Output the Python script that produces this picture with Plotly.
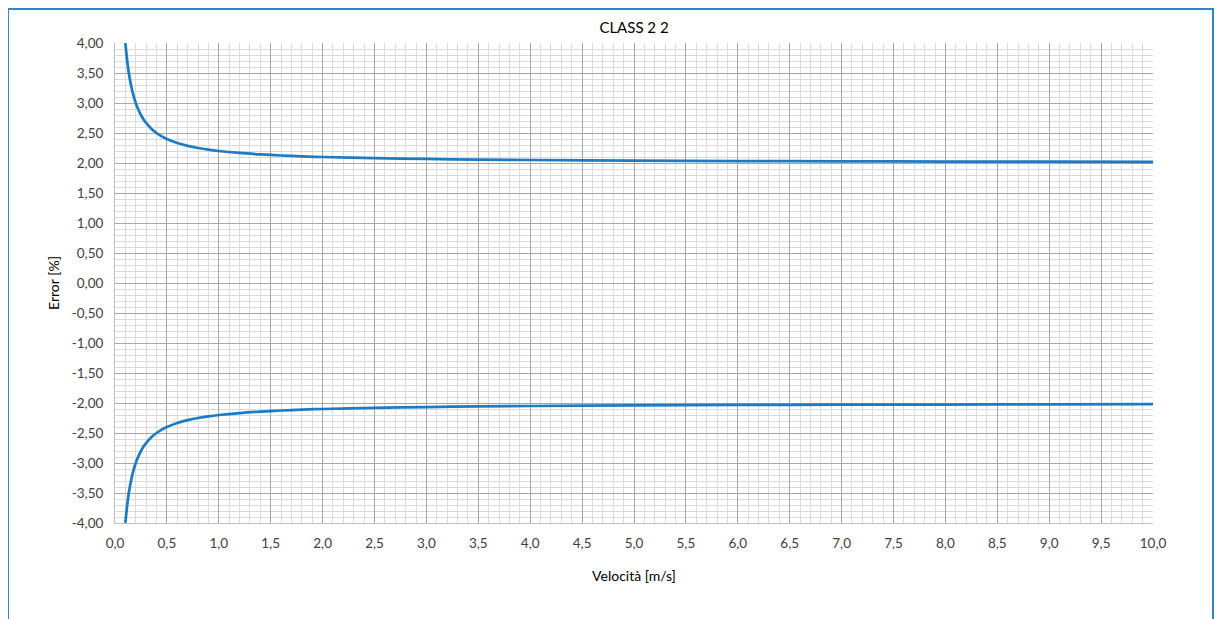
import plotly.graph_objects as go

# Data
velocity = [0.10, 0.11, 0.12, 0.13, 0.14, 0.15, 0.16, 0.18, 0.20, 0.22, 0.25, 0.28, 0.30, 0.35,
            0.40, 0.45, 0.50, 0.60, 0.70, 0.80, 0.90, 1.00, 1.20, 1.40, 1.60, 1.80, 2.00, 2.50,
            3.00, 3.50, 4.00, 5.00, 6.00, 7.00, 8.00, 9.00, 10.00]
upper_error = [4.000, 3.818, 3.667, 3.538, 3.429, 3.333, 3.250, 3.111, 3.000, 2.909, 2.800, 2.714,
               2.667, 2.571, 2.500, 2.444, 2.400, 2.333, 2.286, 2.250, 2.222, 2.200, 2.167, 2.143,
               2.125, 2.111, 2.100, 2.080, 2.067, 2.057, 2.050, 2.040, 2.033, 2.029, 2.025, 2.022, 2.020]
lower_error = [-v for v in upper_error]

x_tick_vals = [i * 0.5 for i in range(21)]
x_tick_text = [f"{v:.1f}".replace(".", ",") for v in x_tick_vals]
y_tick_vals = [-4 + i * 0.5 for i in range(17)]
y_tick_text = [f"{v:.2f}".replace(".", ",") for v in y_tick_vals]

title_text = "CLASS 2 2"
x_title = "Velocità [m/s]"
y_title = "Error [%]"

line_color = "#1F7BC1"
font_family = "Lato, Liberation Sans, Arial, sans-serif"

fig = go.Figure()
for ys in (upper_error, lower_error):
    fig.add_trace(go.Scatter(x=velocity, y=ys, mode="lines",
                             line=dict(color=line_color, width=2.75, shape="spline", smoothing=0.8),
                             showlegend=False, hoverinfo="x+y"))

# page body has an 8px margin
OFF = 8
W, H = 1214, 611
L, T = 107, 35
pw, ph = 1038, 480
R = W - L - pw
B = H - T - ph


def px_x(s):
    return (s - OFF - L) / pw


def px_y(s):
    return (T + ph - (s - OFF)) / ph


fig.update_layout(
    width=W, height=H,
    margin=dict(l=L, r=R, t=T, b=B, pad=0),
    paper_bgcolor="white", plot_bgcolor="white",
    font=dict(family=font_family, size=13.5, color="#404040"),
    title=dict(text=title_text, x=(L + pw / 2) / W, xanchor="center", y=1 - (28 - OFF) / H, yanchor="middle",
               font=dict(size=15, color="#000000")),
    xaxis=dict(range=[0, 10], tickvals=x_tick_vals, ticktext=x_tick_text,
               showgrid=True, gridcolor="#A6A6A6", gridwidth=1,
               minor=dict(dtick=0.1, tick0=0, showgrid=True, gridcolor="#DADADA", gridwidth=1),
               showline=True, linecolor="#BFBFBF", linewidth=1, mirror=False,
               zeroline=False, ticks="", ticklabelstandoff=8,
               title=dict(text=x_title, standoff=20, font=dict(size=14, color="#000000"))),
    yaxis=dict(range=[-4, 4], tickvals=y_tick_vals, ticktext=y_tick_text,
               showgrid=True, gridcolor="#A6A6A6", gridwidth=1,
               minor=dict(dtick=0.1, tick0=0, showgrid=True, gridcolor="#DADADA", gridwidth=1),
               showline=True, linecolor="#BFBFBF", linewidth=1,
               zeroline=False, ticks="", ticklabelstandoff=8,
               title=dict(text=y_title, standoff=8, font=dict(size=14, color="#000000"))),
)

# Outer blue chart frame
fig.add_shape(type="rect", xref="paper", yref="paper",
              x0=px_x(8), x1=px_x(1213), y0=px_y(660), y1=px_y(9),
              line=dict(color="#2E86C8", width=2), fillcolor="rgba(0,0,0,0)", layer="below")

fig.write_html("out.html")
